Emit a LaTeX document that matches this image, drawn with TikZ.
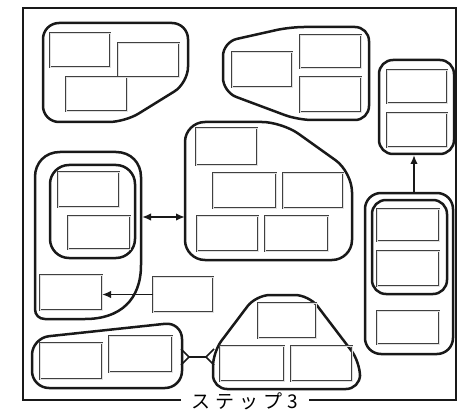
\documentclass[tikz,border=0pt]{standalone}
\usepackage{fontspec}
\newfontfamily\cjk{Noto Sans CJK JP}
\usetikzlibrary{arrows.meta}
\newcommand\mybox[5]{\node[box,minimum width={#4pt-#2pt},minimum height={#5pt-#3pt}] (#1) at ({(#2+#4)/2},{(#3+#5)/2}) {};}
\begin{document}
\begin{tikzpicture}[x=1pt,y=-1pt,
  grp/.style={draw=black!90,line width=2.5pt,line join=round},
  box/.style={draw=black!75,double=black!12,double distance=0.7pt,line width=1.05pt,inner sep=0pt,outer sep=0pt},
  con/.style={draw=black!90,line width=1.7pt},
  tip/.style={-{Latex[length=9pt,width=7.5pt]}},
  frame/.style={draw=black!90,line width=2pt}]
\useasboundingbox (0,0) rectangle (464,412);
% frame and label
\node[font=\cjk\fontsize{19}{19}\selectfont,inner sep=1pt] (lbl) at (245,401) {ス\hspace{5pt}テ\hspace{5pt}ッ\hspace{5pt}プ\hspace{5pt}3};
\draw[frame] (181,400) -- (23,400) -- (23,8) -- (456,8) -- (456,400) -- (309,400);
% group A
\draw[grp,rounded corners=16pt] (43,122) -- (43,23) -- (188,23) -- (188,83) -- (125,122) -- cycle;
\mybox{a1}{50}{33}{110}{67}
\mybox{a2}{118}{43}{179}{77}
\mybox{a3}{66}{77}{127}{111}
% group B
\draw[grp,rounded corners=14pt] (223,92) -- (223,42) -- (290,27) -- (369,27) -- (369,120) -- (298,120) -- cycle;
\mybox{b1}{232}{52}{292}{87}
\mybox{b2}{300}{35}{361}{68}
\mybox{b3}{300}{77}{361}{112}
% group C
\draw[grp,rounded corners=14pt] (379,60) rectangle (454,154);
\mybox{c1}{387}{70}{447}{103}
\mybox{c2}{387}{113}{447}{147}
% group D
\draw[grp,rounded corners=16pt] (365,193) rectangle (453,354);
\draw[grp,rounded corners=14pt] (372,200) rectangle (447,294);
\mybox{d1}{377}{209}{439}{241}
\mybox{d2}{377}{251}{439}{286}
\mybox{d3}{377}{311}{439}{344}
% group E
\draw[grp,rounded corners=20pt] (185,260) -- (185,122) -- (282,122) -- (352,172) -- (352,260) -- cycle;
\mybox{e1}{196}{128}{257}{165}
\mybox{e2}{213}{173}{276}{208}
\mybox{e3}{283}{173}{343}{208}
\mybox{e4}{197}{216}{258}{251}
\mybox{e5}{265}{216}{328}{251}
% group F
\draw[grp] (35,309) -- (35,177) .. controls (35,163) and (45,152) .. (60,152) -- (116,152)
  .. controls (131,152) and (141,163) .. (141,177) -- (141,265)
  .. controls (141,300) and (120,319) .. (85,319) -- (45,319)
  .. controls (39,319) and (35,315) .. (35,309) -- cycle;
\draw[grp,rounded corners=19pt] (50,165) rectangle (135,258);
\mybox{f1}{58}{172}{119}{207}
\mybox{f2}{68}{216}{130}{249}
\mybox{f3}{40}{275}{102}{310}
\mybox{g}{153}{277}{213}{312}
% group H
\draw[grp,rounded corners=17pt] (32,388) -- (32,338) -- (182,322) -- (182,388) -- cycle;
\mybox{h1}{40}{343}{102}{379}
\mybox{h2}{109}{336}{172}{372}
% group I
\draw[grp,rounded corners=14pt] (256,295) -- (309,295) -- (360,362) -- (360,389) -- (213,389) -- (213,352) -- cycle;
\mybox{i1}{258}{303}{316}{338}
\mybox{i2}{220}{346}{284}{381}
\mybox{i3}{291}{346}{352}{381}
% connectors
\coordinate (dtop) at (414,193);
\coordinate (cbot) at (414,155);
\draw[con,tip] (dtop) -- (cbot);
\draw[con,tip] (g.west) -- (g.west -| f3.east);
\coordinate (fr) at (142,217);
\coordinate (el) at (185,217);
\draw[con,{Latex[length=9pt,width=7.5pt]}-{Latex[length=9pt,width=7.5pt]}] (fr) -- (el);
\coordinate (htip) at (189,357);
\coordinate (itip) at (206,357);
\draw[con,line join=round] (181,349) -- (htip) -- (181,365);
\draw[con,line join=round] (214,349) -- (itip) -- (214,365);
\draw[con] (htip) -- (itip);
\end{tikzpicture}
\end{document}
